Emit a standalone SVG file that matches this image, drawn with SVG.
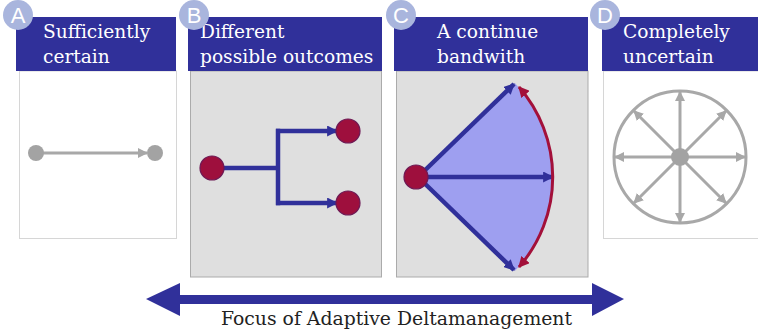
<svg xmlns="http://www.w3.org/2000/svg" width="758" height="331" viewBox="0 0 758 331">
  <style>
    .hdr { fill: #30309a; }
    .hdr-text { font-family: "DejaVu Serif", "Liberation Serif", serif; font-size: 18.6px; fill: #ffffff; }
    .badge { fill: #a9b5dd; }
    .badge-text { font-family: "Liberation Sans", Arial, sans-serif; font-size: 22px; fill: #ffffff; text-anchor: middle; }
    .body-white { fill: #ffffff; stroke: #d6d6d6; stroke-width: 1; }
    .body-gray { fill: #dfdfdf; stroke: #ababab; stroke-width: 1; }
    .node-red { fill: #9e0f3d; stroke: #6e1a55; stroke-width: 1.2; }
    .node-gray { fill: #a3a3a3; }
    .blue { stroke: #30309a; stroke-width: 4.5; fill: none; }
    .gray { stroke: #a8a8a8; stroke-width: 3; fill: none; }
    .red { stroke: #a3103a; stroke-width: 3; fill: none; }
    .caption { font-family: "DejaVu Serif", "Liberation Serif", serif; font-size: 18.8px; fill: #222222; }
  </style>
  <defs>
    <marker id="arrBlue" viewBox="0 0 10 10" refX="9" refY="5" markerUnits="userSpaceOnUse" markerWidth="11" markerHeight="11" orient="auto">
      <path d="M0,0 L10,5 L0,10 Z" fill="#30309a"/>
    </marker>
    <marker id="arrGray" viewBox="0 0 10 10" refX="9" refY="5" markerUnits="userSpaceOnUse" markerWidth="10" markerHeight="10" orient="auto">
      <path d="M0,0 L10,5 L0,10 Z" fill="#a8a8a8"/>
    </marker>
    <marker id="arrRed" viewBox="0 0 10 10" refX="9" refY="5" markerUnits="userSpaceOnUse" markerWidth="11" markerHeight="11" orient="auto-start-reverse">
      <path d="M0,0 L10,5 L0,10 Z" fill="#a3103a"/>
    </marker>
  </defs>

  <!-- Panel A: sufficiently certain -->
  <g id="panel-a">
    <rect class="body-white" x="19.5" y="71" width="157" height="167.5"/>
    <rect class="hdr" x="16" y="17" width="160" height="54"/>
    <text class="hdr-text" x="43" y="38">Sufficiently</text>
    <text class="hdr-text" x="43" y="63">certain</text>
    <circle class="badge" cx="18" cy="15" r="15"/>
    <text class="badge-text" x="18" y="23">A</text>
  </g>

  <!-- Panel B: different possible outcomes -->
  <g id="panel-b">
    <rect class="body-gray" x="190.5" y="71" width="191" height="206"/>
    <rect class="hdr" x="188" y="17" width="194" height="54"/>
    <text class="hdr-text" x="200" y="38">Different</text>
    <text class="hdr-text" x="200" y="63">possible outcomes</text>
    <circle class="badge" cx="194" cy="15" r="15"/>
    <text class="badge-text" x="194" y="23">B</text>
  </g>

  <!-- Panel C: a continue bandwith -->
  <g id="panel-c">
    <rect class="body-gray" x="396.5" y="71" width="191.5" height="206"/>
    <rect class="hdr" x="394" y="17" width="194" height="54"/>
    <text class="hdr-text" x="437" y="38">A continue</text>
    <text class="hdr-text" x="437" y="63">bandwith</text>
    <path d="M418,177 L515.1,83.2 A135,135 0 0 1 515.1,270.8 Z" fill="#9e9ff0"/>
    <circle class="badge" cx="401" cy="15" r="15"/>
    <text class="badge-text" x="401" y="23">C</text>
  </g>

  <!-- Panel D: completely uncertain -->
  <g id="panel-d">
    <rect class="body-white" x="603.5" y="71" width="160" height="167.5"/>
    <rect class="hdr" x="602" y="17" width="160" height="54"/>
    <text class="hdr-text" x="623" y="38">Completely</text>
    <text class="hdr-text" x="623" y="63">uncertain</text>
    <circle class="badge" cx="605" cy="15" r="15"/>
    <text class="badge-text" x="605" y="23">D</text>
  </g>

  <!-- Connectors -->
  <g id="connectors">
    <!-- A: single path -->
    <line class="gray" x1="36" y1="153" x2="147" y2="153" marker-end="url(#arrGray)"/>
    <!-- B: branching -->
    <path class="blue" d="M212,168 H278 M278,128.8 V205.2"/>
    <line class="blue" x1="276" y1="131" x2="337" y2="131" marker-end="url(#arrBlue)"/>
    <line class="blue" x1="276" y1="203" x2="337" y2="203" marker-end="url(#arrBlue)"/>
    <!-- C: fan -->
    <line class="blue" x1="418" y1="177" x2="514" y2="84" stroke-width="3.5" marker-end="url(#arrBlue)"/>
    <line class="blue" x1="418" y1="177" x2="553" y2="177" stroke-width="3.5" marker-end="url(#arrBlue)"/>
    <line class="blue" x1="418" y1="177" x2="514" y2="270" stroke-width="3.5" marker-end="url(#arrBlue)"/>
    <path class="red" d="M519,87 A137,137 0 0 1 519,267" marker-start="url(#arrRed)" marker-end="url(#arrRed)"/>
    <!-- D: all directions -->
    <circle class="gray" cx="680" cy="157" r="66"/>
    <g class="gray" marker-end="url(#arrGray)">
      <line x1="680" y1="157" x2="680" y2="92"/>
      <line x1="680" y1="157" x2="680" y2="222"/>
      <line x1="680" y1="157" x2="615" y2="157"/>
      <line x1="680" y1="157" x2="745" y2="157"/>
      <line x1="680" y1="157" x2="726" y2="111"/>
      <line x1="680" y1="157" x2="634" y2="111"/>
      <line x1="680" y1="157" x2="726" y2="203"/>
      <line x1="680" y1="157" x2="634" y2="203"/>
    </g>
  </g>

  <!-- Nodes drawn above connectors -->
  <g id="nodes">
    <circle class="node-gray" cx="36" cy="153" r="8"/>
    <circle class="node-gray" cx="155" cy="153" r="8"/>
    <circle class="node-red" cx="212" cy="168" r="12"/>
    <circle class="node-red" cx="348" cy="131" r="12"/>
    <circle class="node-red" cx="348" cy="203" r="12"/>
    <circle class="node-red" cx="416" cy="177" r="12"/>
    <circle class="node-gray" cx="680" cy="157" r="9"/>
  </g>

  <!-- Bottom range arrow -->
  <g id="focus">
    <polygon points="146,299 180,283 180,295 592,295 592,283 624,299 592,316 592,304 180,304 180,316" fill="#30309a"/>
    <text class="caption" x="221" y="325" textLength="351" lengthAdjust="spacingAndGlyphs">Focus of Adaptive Deltamanagement</text>
  </g>
</svg>
